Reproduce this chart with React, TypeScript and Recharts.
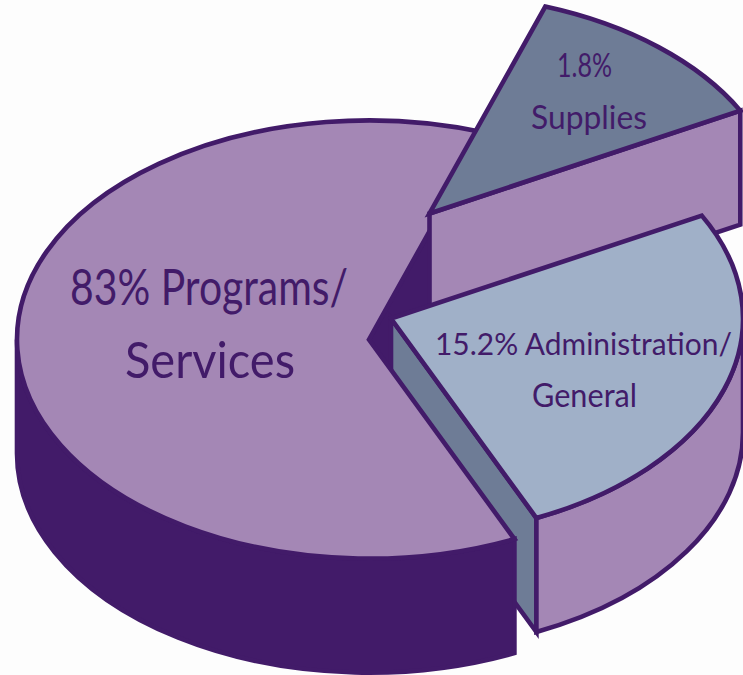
import { Pie, PieChart } from "recharts";

const sliceNames = ["Programs/Services", "Administration/General", "Supplies"];
// the printed labels don't match the wedges in the picture, so both are kept
const drawnDegrees = [223.6, 93.6, 42.8];
const labelLines = [
  ["83% Programs/", "Services"],
  ["15.2% Administration/", "General"],
  ["1.8%", "Supplies"],
];

const data = sliceNames.map((name, i) => ({ name, value: drawnDegrees[i] }));

const DARK = "#421b69";
const LILAC = "#a487b5";
const SLATE = "#6e7c96";
const BLUE = "#a0b0c8";

const SQUASH = 0.6225;
const DEPTH = 114;
const RADIUS = 352;

const explode = [
  { x: 0, y: 0 },
  { x: 22, y: -21 },
  { x: 60.5, y: -126 },
];
const topColors = [LILAC, BLUE, SLATE];
const cutColors = [DARK, SLATE, LILAC];
const rimColors = [DARK, LILAC, LILAC];

// back to front, the slices interleave so each one needs a few passes
const passes: [number, string[]][] = [
  [0, ["cut"]],
  [1, ["cut"]],
  [0, ["rim", "top"]],
  [2, ["cut", "top"]],
  [1, ["rim", "top"]],
];

const labelSpots = [
  [
    { x: 70, y: 305, w: 278, size: 50 },
    { x: 125, y: 378, w: 170, size: 50 },
  ],
  [
    { x: 435, y: 355, w: 297, size: 30 },
    { x: 532, y: 407, w: 105, size: 32 },
  ],
  [
    { x: 557, y: 77, w: 55, size: 32 },
    { x: 531, y: 129, w: 116, size: 32 },
  ],
];

function sliceShape(sliceIndex: number, parts: string[]) {
  return (props: any) => {
    if (props.name !== sliceNames[sliceIndex]) return <g />;
    const { cx, cy, outerRadius, startAngle, endAngle } = props;
    const ox = cx + explode[sliceIndex].x;
    const oy = cy + explode[sliceIndex].y;
    const rx = outerRadius;
    const ry = outerRadius * SQUASH;
    const at = (deg: number, drop = 0) => {
      const a = (deg * Math.PI) / 180;
      return `${ox + rx * Math.cos(a)} ${oy - ry * Math.sin(a) + drop}`;
    };
    const common = { stroke: DARK, strokeWidth: 4.6, strokeLinejoin: "miter" as const };
    const out: any[] = [];

    if (parts.includes("cut")) {
      out.push(
        <path
          key="cut"
          {...common}
          fill={cutColors[sliceIndex]}
          d={`M${ox} ${oy}L${at(startAngle)}L${at(startAngle, DEPTH)}L${ox} ${oy + DEPTH}Z`}
        />
      );
    }
    if (parts.includes("rim")) {
      // only the front half of the ellipse has a visible wall
      const from = Math.max(startAngle, 180);
      const to = Math.min(endAngle, 360);
      if (to > from) {
        out.push(
          <path
            key="rim"
            {...common}
            fill={rimColors[sliceIndex]}
            d={`M${at(from)}A${rx} ${ry} 0 0 0 ${at(to)}L${at(to, DEPTH)}A${rx} ${ry} 0 0 1 ${at(from, DEPTH)}Z`}
          />
        );
      }
    }
    if (parts.includes("top")) {
      const large = endAngle - startAngle > 180 ? 1 : 0;
      out.push(
        <path
          key="top"
          {...common}
          fill={topColors[sliceIndex]}
          d={`M${ox} ${oy}L${at(startAngle)}A${rx} ${ry} 0 ${large} 0 ${at(endAngle)}Z`}
        />
      );
    }
    return <g>{out}</g>;
  };
}

function renderLabel(props: any) {
  const i = props.index;
  return (
    <g>
      {labelLines[i].map((line, n) => {
        const spot = labelSpots[i][n];
        return (
          <text
            key={line}
            x={spot.x}
            y={spot.y}
            fontFamily="Lato, sans-serif"
            fontSize={spot.size}
            fill={DARK}
            stroke="none"
            textLength={spot.w}
            lengthAdjust="spacingAndGlyphs"
            textAnchor="start"
          >
            {line}
          </text>
        );
      })}
    </g>
  );
}

export default function App() {
  return (
    <div style={{ position: "absolute", left: 0, top: 0, width: 743, height: 675, background: "#fdfdfd", overflow: "hidden" }}>
      <PieChart width={743} height={675} margin={{ top: 0, right: 0, bottom: 0, left: 0 }}>
        {passes.map(([slice, parts], n) => (
          <Pie
            key={n}
            data={data}
            dataKey="value"
            nameKey="name"
            cx={369}
            cy={339.5}
            innerRadius={0}
            outerRadius={RADIUS}
            startAngle={70.8}
            endAngle={430.8}
            shape={sliceShape(slice, parts)}
            label={n === passes.length - 1 ? renderLabel : false}
            labelLine={false}
            isAnimationActive={false}
          />
        ))}
      </PieChart>
    </div>
  );
}
